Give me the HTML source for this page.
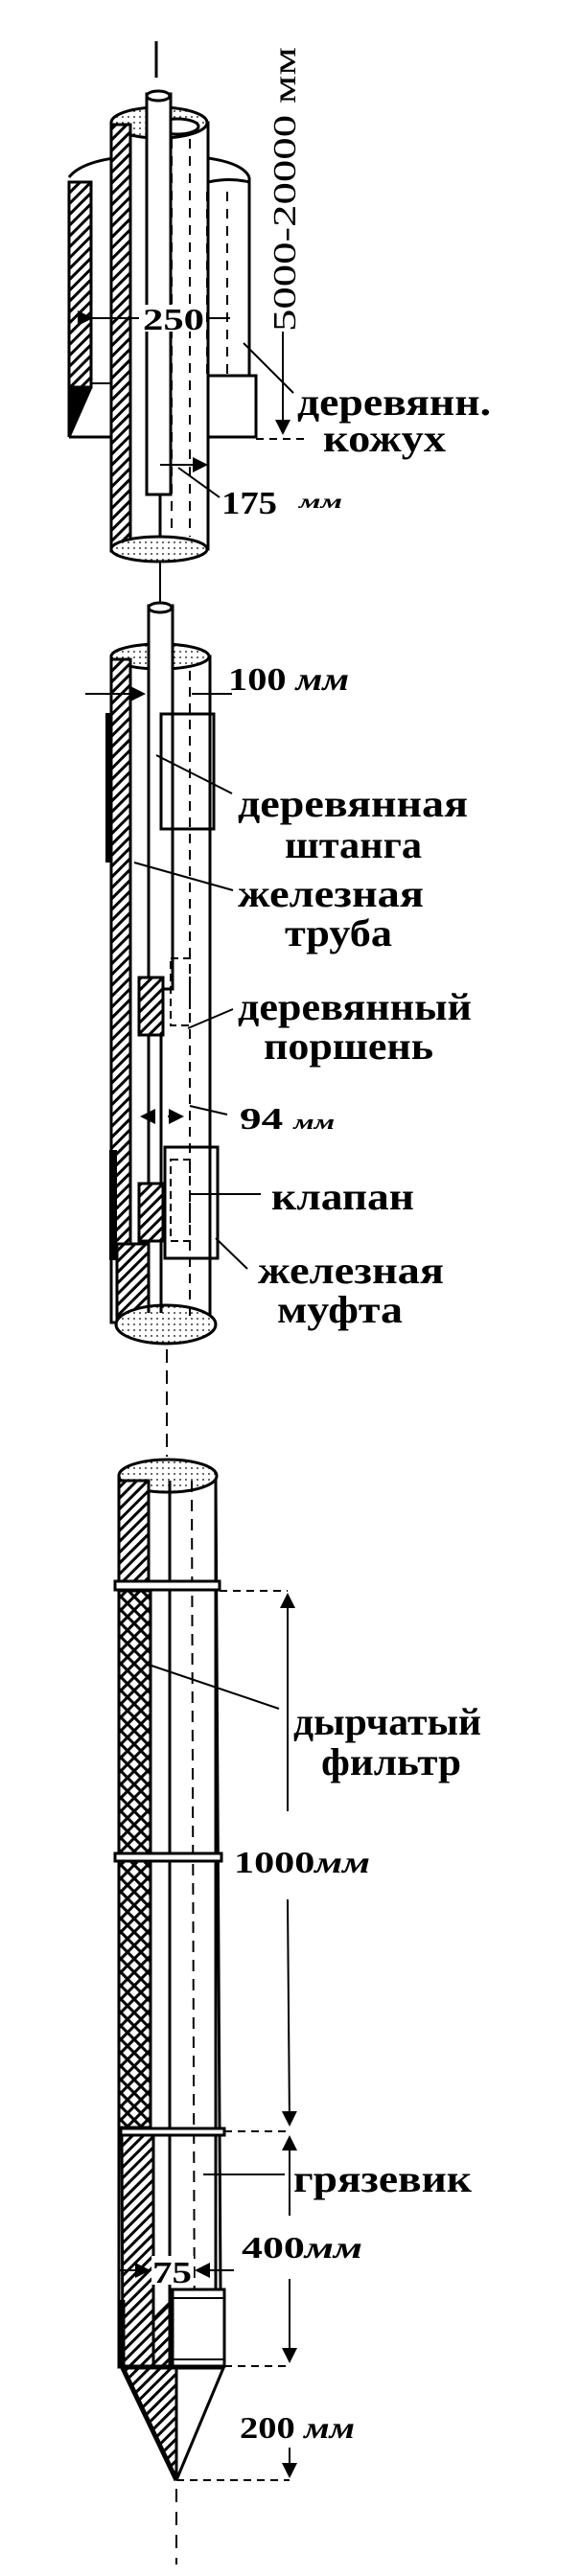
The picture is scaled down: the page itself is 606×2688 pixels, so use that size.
<!DOCTYPE html>
<html><head><meta charset="utf-8"><style>
html,body{margin:0;padding:0;background:#fff;}
svg{display:block;}
text{font-family:"Liberation Serif","DejaVu Serif",serif;font-weight:bold;fill:#000;}
</style></head><body>
<svg width="606" height="2688" viewBox="0 0 606 2688" xmlns="http://www.w3.org/2000/svg">
<defs>
<pattern id="h" width="8" height="8" patternUnits="userSpaceOnUse" patternTransform="rotate(45)">
<rect width="8" height="8" fill="#fff"/><rect width="3" height="8" fill="#000"/></pattern>
<pattern id="x" width="14" height="14" patternUnits="userSpaceOnUse">
<rect width="14" height="14" fill="#fff"/><path d="M0 0L14 14M14 0L0 14" stroke="#000" stroke-width="3"/></pattern>
<pattern id="d" width="6" height="6" patternUnits="userSpaceOnUse">
<rect width="6" height="6" fill="#fff"/><circle cx="2" cy="2" r="0.9" fill="#000"/></pattern>
<marker id="a" markerWidth="8" markerHeight="8" refX="7" refY="4" orient="auto"><path d="M0 0L8 4L0 8z" fill="#000"/></marker>
</defs>
<g stroke="#000" stroke-width="3" fill="none">
<!-- axis -->
<line x1="163" y1="43" x2="163" y2="81"/>
<!-- casing (wooden) -->
<path d="M72 185 Q90 162 166 162 Q250 162 260 185" fill="#fff"/>
<rect x="72" y="190" width="23" height="214" fill="url(#h)"/>
<path d="M72 404 L72 456 L95 404" fill="#000"/>
<line x1="260" y1="185" x2="260" y2="392"/>
<path d="M167 392 H267 V456 H72"/>
<line x1="95" y1="400" x2="116" y2="400" stroke-width="2"/>
<!-- upper tube -->
<rect x="116" y="128" width="101" height="445" fill="#fff"/>
<ellipse cx="166" cy="128" rx="50" ry="16" fill="url(#d)"/>
<ellipse cx="185" cy="132" rx="22" ry="8" fill="#fff"/>
<rect x="116" y="130" width="20" height="445" fill="url(#h)"/>
<ellipse cx="166" cy="573" rx="50" ry="13" fill="url(#d)"/>
<line x1="167" y1="144" x2="167" y2="560"/>
<path d="M217 190 Q240 185 260 190" />
<g stroke-width="2" stroke-dasharray="10 8"><line x1="179" y1="145" x2="179" y2="560"/><line x1="198" y1="145" x2="198" y2="560"/><line x1="216" y1="200" x2="216" y2="390"/><line x1="237" y1="200" x2="237" y2="390"/></g>
<!-- rod 1 -->
<rect x="153" y="98" width="25" height="418" fill="#fff"/>
<ellipse cx="165" cy="100" rx="12" ry="5" fill="#fff"/>
<path d="M153 516 H168"/>
<!-- dims top -->
<line x1="95" y1="332" x2="145" y2="332" stroke-width="2" marker-start="url(#a)"/>
<line x1="215" y1="332" x2="240" y2="332" stroke-width="2"/>
<line x1="295" y1="346" x2="295" y2="452" stroke-width="2" marker-end="url(#a)"/>
<line x1="267" y1="458" x2="322" y2="458" stroke-width="2" stroke-dasharray="8 6"/>
<line x1="254" y1="358" x2="306" y2="410" stroke-width="2"/>
<line x1="167" y1="485" x2="215" y2="485" stroke-width="2" marker-end="url(#a)"/>
<line x1="186" y1="488" x2="229" y2="519" stroke-width="2"/>
<line x1="167" y1="586" x2="167" y2="628" stroke-width="2"/>
<!-- section 2 -->
<rect x="116" y="685" width="103" height="695" fill="#fff"/>
<ellipse cx="167" cy="685" rx="51" ry="13" fill="url(#d)"/>
<rect x="116" y="688" width="20" height="610" fill="url(#h)"/>
<path d="M122 1298 L155 1298 L155 1380 L122 1380z" fill="url(#h)"/>
<ellipse cx="173" cy="1382" rx="52" ry="20" fill="url(#d)"/>
<rect x="110" y="744" width="6" height="156" fill="#000" stroke="none"/>
<rect x="114" y="1200" width="8" height="115" fill="#000" stroke="none"/>
<line x1="155" y1="690" x2="155" y2="1370"/>
<line x1="168" y1="700" x2="168" y2="1370"/>
<rect x="155" y="632" width="25" height="400" fill="#fff"/>
<ellipse cx="167" cy="634" rx="12" ry="5" fill="#fff"/>
<rect x="145" y="1020" width="25" height="60" fill="url(#h)"/>
<rect x="145" y="1235" width="25" height="60" fill="url(#h)"/>
<rect x="168" y="745" width="55" height="120" fill="none"/>
<line x1="198" y1="700" x2="198" y2="1380" stroke-width="2" stroke-dasharray="10 7"/>
<rect x="172" y="1197" width="55" height="116" fill="none"/>
<rect x="178" y="1000" width="20" height="70" stroke-width="2" stroke-dasharray="8 5"/>
<rect x="178" y="1210" width="20" height="85" stroke-width="2" stroke-dasharray="8 5"/>
<line x1="89" y1="724" x2="150" y2="724" stroke-width="2" marker-end="url(#a)"/>
<line x1="200" y1="724" x2="242" y2="724" stroke-width="2"/>
<line x1="163" y1="788" x2="242" y2="828" stroke-width="2"/>
<line x1="140" y1="900" x2="243" y2="929" stroke-width="2"/>
<line x1="196" y1="1073" x2="243" y2="1053" stroke-width="2"/>
<line x1="160" y1="1165" x2="148" y2="1165" stroke-width="2" marker-end="url(#a)"/>
<line x1="175" y1="1165" x2="190" y2="1165" stroke-width="2" marker-end="url(#a)"/>
<line x1="198" y1="1154" x2="237" y2="1163" stroke-width="2"/>
<line x1="198" y1="1246" x2="272" y2="1246" stroke-width="2"/>
<line x1="225" y1="1292" x2="258" y2="1324" stroke-width="2"/>
<line x1="174" y1="1408" x2="174" y2="1520" stroke-width="2" stroke-dasharray="14 8"/>
<!-- section 3 -->
<rect x="124" y="1540" width="101" height="930" fill="#fff"/>
<ellipse cx="175" cy="1540" rx="51" ry="17" fill="url(#d)"/>
<rect x="124" y="1545" width="31" height="110" fill="url(#h)"/>
<rect x="124" y="1660" width="33" height="560" fill="url(#x)"/>
<path d="M127 2228 H160 V2469 H128z" fill="url(#h)"/>
<path d="M160 2420 L180 2400 V2469 H160z" fill="url(#h)"/>
<line x1="177" y1="1545" x2="177" y2="2469"/>
<line x1="225" y1="1545" x2="230" y2="2389"/>
<line x1="200" y1="1545" x2="203" y2="2469" stroke-width="2" stroke-dasharray="12 8"/>
<rect x="120" y="1650" width="109" height="9" fill="#fff"/>
<rect x="120" y="1934" width="111" height="8" fill="#fff"/>
<rect x="126" y="2221" width="108" height="7" fill="#fff"/>
<rect x="180" y="2389" width="54" height="80" fill="#fff"/>
<line x1="180" y1="2398" x2="234" y2="2398" stroke-width="2"/>
<line x1="180" y1="2462" x2="234" y2="2462" stroke-width="2"/>
<path d="M128 2471 L184 2588 L184 2471z" fill="url(#h)"/>
<path d="M184 2471 H233 L184 2588"/>
<path d="M128 2400 V2471 L184 2588" stroke-width="5"/>
<!-- dims section 3 -->
<line x1="229" y1="1660" x2="300" y2="1660" stroke-width="2" stroke-dasharray="8 6"/>
<line x1="300" y1="1890" x2="300" y2="1664" stroke-width="2" marker-end="url(#a)"/>
<line x1="300" y1="1982" x2="302" y2="2217" stroke-width="2" marker-end="url(#a)"/>
<line x1="234" y1="2224" x2="302" y2="2224" stroke-width="2" stroke-dasharray="8 6"/>
<line x1="302" y1="2312" x2="302" y2="2230" stroke-width="2" marker-end="url(#a)"/>
<line x1="302" y1="2378" x2="302" y2="2464" stroke-width="2" marker-end="url(#a)"/>
<line x1="234" y1="2469" x2="302" y2="2469" stroke-width="2" stroke-dasharray="8 6"/>
<line x1="302" y1="2554" x2="302" y2="2584" stroke-width="2" marker-end="url(#a)"/>
<line x1="184" y1="2588" x2="302" y2="2588" stroke-width="2" stroke-dasharray="8 6"/>
<line x1="155" y1="1737" x2="291" y2="1783" stroke-width="2"/>
<line x1="212" y1="2269" x2="297" y2="2269" stroke-width="2"/>
<line x1="124" y1="2369" x2="155" y2="2369" stroke-width="2" marker-end="url(#a)"/>
<line x1="244" y1="2369" x2="205" y2="2369" stroke-width="2" marker-end="url(#a)"/>
<line x1="184" y1="2597" x2="184" y2="2676" stroke-width="2" stroke-dasharray="14 10"/>
</g>
<!-- labels -->
<rect x="148" y="318" width="66" height="28" fill="#fff"/>
<text x="149" y="344" font-size="32" textLength="64" lengthAdjust="spacingAndGlyphs">250</text>
<text transform="translate(308,346) rotate(-90)" font-size="34" font-weight="normal" textLength="297" lengthAdjust="spacingAndGlyphs" style="font-weight:normal">5000-20000 мм</text>
<text x="310" y="433" font-size="40" textLength="202" lengthAdjust="spacingAndGlyphs">деревянн.</text>
<text x="337" y="471" font-size="40" textLength="128" lengthAdjust="spacingAndGlyphs">кожух</text>
<text x="231" y="536" font-size="34" textLength="58" lengthAdjust="spacingAndGlyphs">175</text>
<text x="312" y="530" font-size="20" font-style="italic" textLength="45" lengthAdjust="spacingAndGlyphs">мм</text>
<text x="238" y="720" font-size="34" textLength="126" lengthAdjust="spacingAndGlyphs">100 <tspan font-style="italic">мм</tspan></text>
<text x="248" y="852" font-size="40" textLength="240" lengthAdjust="spacingAndGlyphs">деревянная</text>
<text x="297" y="895" font-size="40" textLength="143" lengthAdjust="spacingAndGlyphs">штанга</text>
<text x="248" y="946" font-size="40" textLength="194" lengthAdjust="spacingAndGlyphs">железная</text>
<text x="297" y="987" font-size="40" textLength="112" lengthAdjust="spacingAndGlyphs">труба</text>
<text x="248" y="1064" font-size="40" textLength="244" lengthAdjust="spacingAndGlyphs">деревянный</text>
<text x="275" y="1105" font-size="40" textLength="177" lengthAdjust="spacingAndGlyphs">поршень</text>
<text x="250" y="1178" font-size="32" textLength="99" lengthAdjust="spacingAndGlyphs">94 <tspan font-style="italic" font-size="22">мм</tspan></text>
<text x="283" y="1262" font-size="40" textLength="149" lengthAdjust="spacingAndGlyphs">клапан</text>
<text x="269" y="1339" font-size="40" textLength="194" lengthAdjust="spacingAndGlyphs">железная</text>
<text x="289" y="1380" font-size="40" textLength="131" lengthAdjust="spacingAndGlyphs">муфта</text>
<text x="306" y="1810" font-size="40" textLength="196" lengthAdjust="spacingAndGlyphs">дырчатый</text>
<text x="335" y="1852" font-size="40" textLength="146" lengthAdjust="spacingAndGlyphs">фильтр</text>
<text x="244" y="1954" font-size="32" textLength="142" lengthAdjust="spacingAndGlyphs">1000<tspan font-style="italic">мм</tspan></text>
<text x="306" y="2287" font-size="40" textLength="186" lengthAdjust="spacingAndGlyphs">грязевик</text>
<text x="252" y="2356" font-size="32" textLength="126" lengthAdjust="spacingAndGlyphs">400<tspan font-style="italic">мм</tspan></text>
<rect x="158" y="2354" width="44" height="30" fill="#fff"/>
<text x="159" y="2382" font-size="32" textLength="41" lengthAdjust="spacingAndGlyphs">75</text>
<text x="250" y="2544" font-size="32" textLength="120" lengthAdjust="spacingAndGlyphs">200 <tspan font-style="italic">мм</tspan></text>
</svg>
</body></html>
